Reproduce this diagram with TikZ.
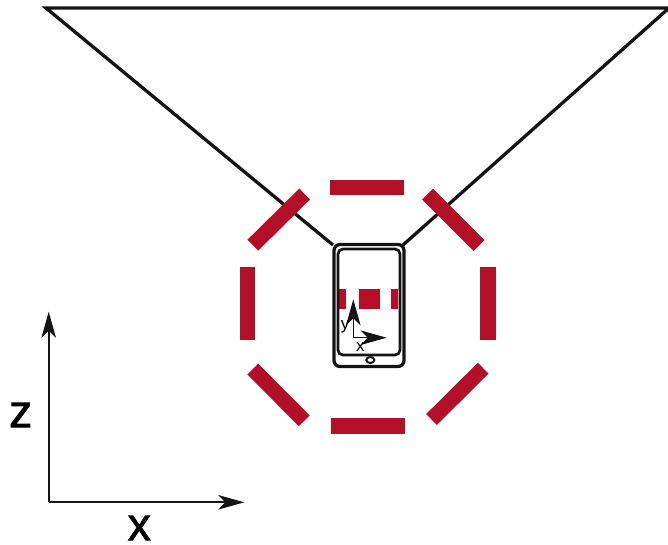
\documentclass[tikz,border=0pt]{standalone}
\usepackage{fontspec}
\setmainfont{Liberation Sans}
\newfontfamily\heavyfont[FakeBold=1.6]{Liberation Sans}
\usetikzlibrary{arrows.meta}
\definecolor{ringred}{HTML}{B31027}
\tikzset{
  barbtip/.tip={Stealth[length=26pt, width=14.5pt, inset=7pt]},
  ringbar/.style={ringred, line width=15.3pt},
  bigaxis/.style={-{barbtip}, line width=1.9pt, black!92},
  smallaxis/.style={-{barbtip}, line width=1.3pt, black!92},
  edgeline/.style={line width=3.3pt, black!92},
}
\begin{document}
\begin{tikzpicture}[x=1pt, y=-1pt]
  \useasboundingbox (0,0) rectangle (668,544);
  % field of view
  \coordinate (apex left) at (333,245);
  \coordinate (apex right) at (403,245);
  \coordinate (far left) at (46,8);
  \coordinate (far right) at (669,8);
  \draw[edgeline] (apex left) -- (far left) -- (far right) -- (apex right);

  % ring of bars
  \draw[ringbar] (330.3,187.7) -- (403.7,187.7);
  \draw[ringbar] (331.3,426) -- (404.7,426);
  \draw[ringbar] (247.2,267.3) -- (247.2,340.3);
  \draw[ringbar] (488,267.3) -- (488,340.3);
  \draw[ringbar] (304.7,194) -- (252.8,245.2);
  \draw[ringbar] (427.5,194) -- (479,245.5);
  \draw[ringbar] (252.8,369) -- (304.2,420.8);
  \draw[ringbar] (483.2,368.2) -- (431.5,419.5);

  % phone
  \fill[ringred] (339.3,289) rectangle (345.7,309.3);
  \fill[ringred] (359,289) rectangle (380,309.3);
  \fill[ringred] (391.3,289) rectangle (398,309.3);
  \draw[line width=3.3pt, rounded corners=6pt, black!92] (334,244.5) rectangle (404,366.5);
  \draw[line width=2.7pt, rounded corners=5pt, black!92] (338,249) rectangle (400,355);
  \draw[line width=2pt, black!92] (370.3,360) ellipse (4pt and 3pt);

  % phone axes
  \coordinate (phone origin) at (353.3,337.7);
  \coordinate (phone y) at (353.3,299.3);
  \coordinate (phone x) at (386.7,337.7);
  \draw[smallaxis] (phone origin) -- (phone y);
  \draw[smallaxis] (phone origin) -- (phone x);
  \node[font=\fontsize{17}{17}\selectfont, inner sep=0pt] (label y) at (345,327) {y};
  \node[font=\fontsize{17}{17}\selectfont, inner sep=0pt] (label x) at (360.3,347) {x};

  % world axes
  \coordinate (world origin) at (48.7,502.3);
  \coordinate (world z) at (48.7,311.7);
  \coordinate (world x) at (244.3,502.3);
  \draw[bigaxis] (world origin) -- (world z);
  \draw[bigaxis] (world origin) -- (world x);
  \node[font=\heavyfont\fontsize{46}{46}\selectfont, inner sep=0pt] (label z) at (20.7,415) {z};
  \node[font=\heavyfont\fontsize{46}{46}\selectfont, inner sep=0pt] (label xx) at (139.3,528) {x};
\end{tikzpicture}
\end{document}
